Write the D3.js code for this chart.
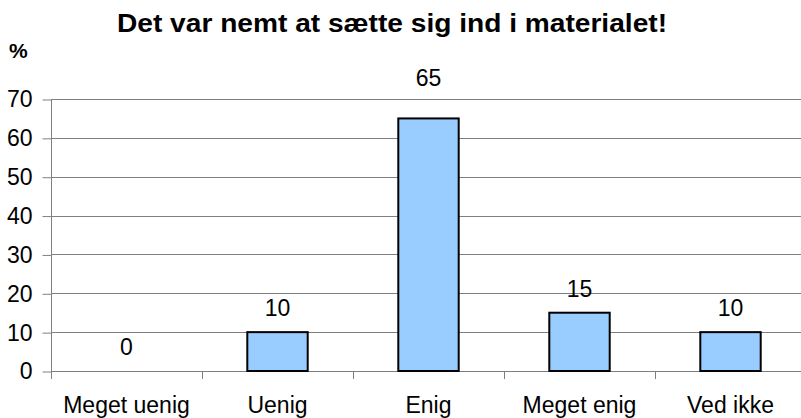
<!DOCTYPE html>
<html lang="da">
<head>
<meta charset="utf-8">
<title>Det var nemt at sætte sig ind i materialet!</title>
<script src="https://d3js.org/d3.v7.min.js"></script>
<style>
  body { margin: 0; background: #fff; }
  svg text { font-family: "Liberation Sans", Arial, sans-serif; fill: #000; }
</style>
</head>
<body>
<div id="chart"></div>
<script>
var categories = ["Meget uenig", "Uenig", "Enig", "Meget enig", "Ved ikke"];
var values = [0, 10, 65, 15, 10];
var yTicks = [0, 10, 20, 30, 40, 50, 60, 70];
var title = "Det var nemt at sætte sig ind i materialet!";
var yLabel = "%";

var w = 801, h = 418;
var plotLeft = 51, plotRight = 806, plotTop = 99, plotBottom = 371;

var data = categories.map(function(c, i) { return { cat: c, val: values[i] }; });

var svg = d3.select("#chart").append("svg")
  .attr("width", w).attr("height", h);

var x = d3.scaleBand().domain(categories).range([plotLeft, plotRight]).paddingInner(0).paddingOuter(0);
var y = d3.scaleLinear().domain([0, 70]).range([plotBottom, plotTop]);

// gridlines
svg.append("g").selectAll("line")
  .data(yTicks.filter(function(d) { return d > 0; }))
  .enter().append("line")
  .attr("x1", plotLeft).attr("x2", plotRight)
  .attr("y1", function(d) { return Math.round(y(d)) + 0.5; })
  .attr("y2", function(d) { return Math.round(y(d)) + 0.5; })
  .attr("stroke", "#808080").attr("stroke-width", 1);

// x axis line + ticks at band edges
svg.append("line").attr("x1", plotLeft).attr("x2", plotRight)
  .attr("y1", plotBottom + 0.5).attr("y2", plotBottom + 0.5).attr("stroke", "#808080");
svg.append("g").selectAll("line")
  .data(categories)
  .enter().append("line")
  .attr("x1", function(d) { return Math.round(x(d)) + 0.5; })
  .attr("x2", function(d) { return Math.round(x(d)) + 0.5; })
  .attr("y1", plotBottom).attr("y2", plotBottom + 8)
  .attr("stroke", "#808080");

// bars
var bw = x.bandwidth() * 0.4;
svg.append("g").selectAll("rect")
  .data(data.filter(function(d) { return d.val > 0; }))
  .enter().append("rect")
  .attr("x", function(d) { return x(d.cat) + (x.bandwidth() - bw) / 2; })
  .attr("y", function(d) { return y(d.val); })
  .attr("width", bw)
  .attr("height", function(d) { return y(0) - y(d.val); })
  .attr("fill", "#99CCFF")
  .attr("stroke", "#000").attr("stroke-width", 2);

// y axis
var yAxis = d3.axisLeft(y).tickValues(yTicks).tickSize(9).tickPadding(10).tickFormat(d3.format("d"));
var gy = svg.append("g").attr("transform", "translate(" + (plotLeft + 0.5) + ",0.5)").call(yAxis);
gy.select(".domain").remove();
gy.selectAll(".tick line").attr("stroke", "#808080");
gy.selectAll(".tick text").attr("font-size", 23).attr("font-family", "Liberation Sans, Arial, sans-serif");
svg.append("line").attr("x1", plotLeft + 0.5).attr("x2", plotLeft + 0.5)
  .attr("y1", plotTop).attr("y2", plotBottom + 8).attr("stroke", "#808080");

// category labels
svg.append("g").selectAll("text")
  .data(categories)
  .enter().append("text")
  .attr("x", function(d) { return x(d) + x.bandwidth() / 2; })
  .attr("y", 413)
  .attr("text-anchor", "middle")
  .attr("font-size", 23)
  .text(function(d) { return d; });

// value labels
var maxV = d3.max(values);
svg.append("g").selectAll("text")
  .data(data)
  .enter().append("text")
  .attr("x", function(d) { return x(d.cat) + x.bandwidth() / 2; })
  .attr("y", function(d) { return d.val === maxV ? y(70) - 21 : y(d.val) - 24; })
  .attr("dy", "0.35em")
  .attr("text-anchor", "middle")
  .attr("font-size", 23)
  .text(function(d) { return d.val; });

// title
svg.append("text")
  .attr("x", 392).attr("y", 32)
  .attr("text-anchor", "middle")
  .attr("font-size", 25).attr("font-weight", "bold")
  .attr("textLength", 550).attr("lengthAdjust", "spacingAndGlyphs")
  .text(title);

svg.append("text")
  .attr("x", 9).attr("y", 58)
  .attr("font-size", 21).attr("font-weight", "bold")
  .text(yLabel);
</script>
</body>
</html>
